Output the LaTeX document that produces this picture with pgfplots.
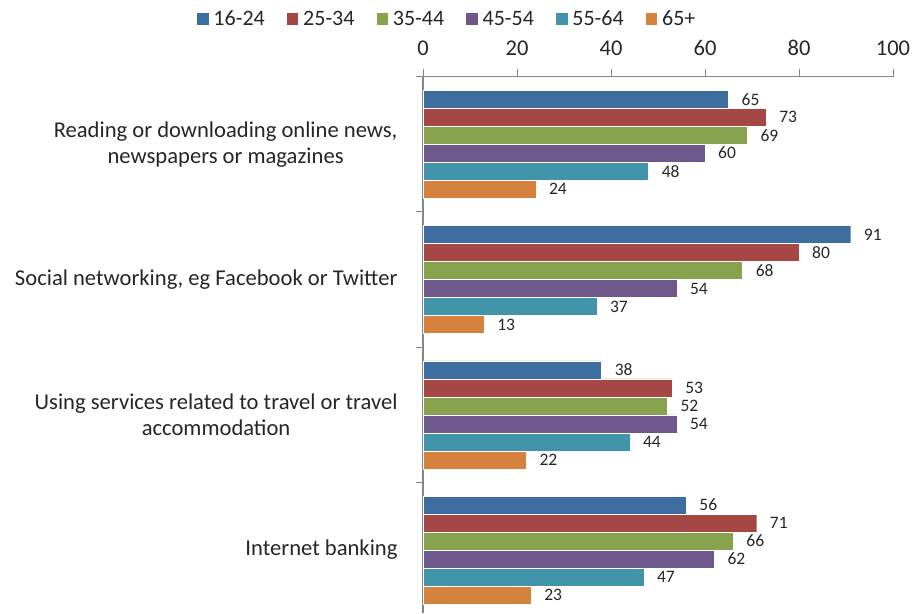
\documentclass[border=0pt]{standalone}
\usepackage{pgfplots}
\pgfplotsset{compat=1.18}
\usepackage{fontspec}
\setmainfont{Carlito}
\definecolor{c1}{HTML}{3D6E9F}
\definecolor{c2}{HTML}{A44745}
\definecolor{c3}{HTML}{88A34E}
\definecolor{c4}{HTML}{6E578A}
\definecolor{c5}{HTML}{4294AA}
\definecolor{c6}{HTML}{D6823F}
\definecolor{axgray}{HTML}{868686}
\definecolor{txt}{HTML}{262626}
\begin{document}
\begin{tikzpicture}[x=1pt,y=1pt]
\begin{axis}[
  at={(423pt,-76.5pt)}, anchor=north west,
  scale only axis, width=470pt, height=536.5pt,
  xmin=0, xmax=100, ymin=-0.465, ymax=3.5,
  axis x line*=top, axis y line*=left,
  axis line style={draw=axgray, line width=1.5pt},
  /pgf/number format/assume math mode=true,
  xtick={0,20,...,100},
  tick align=outside, major tick length=7pt,
  tick style={draw=axgray, line width=1pt},
  xticklabel style={font=\fontsize{22.5}{26}\selectfont, text=txt, yshift=10pt},
  ytick={0.5,1.5,2.5,3.5}, yticklabels={},
  extra y ticks={0,1,2,3},
  extra y tick labels={{Internet banking},{Using services related to travel or travel\\accommodation},{Social networking, eg Facebook or Twitter},{Reading or downloading online news,\\newspapers or magazines}},
  extra y tick style={major tick length=0pt, yticklabel style={align=center, font=\fontsize{22.6}{26}\selectfont, text=txt, xshift=-22pt}},
  xbar, bar width=0.133,
  nodes near coords,
  every node near coord/.append style={font=\fontsize{17.5}{20}\selectfont, text=txt, anchor=west, inner sep=0pt, xshift=13pt},
  legend columns=6,
  legend style={at={(rel axis cs:0.0505,1.107)}, anchor=center, draw=none, fill=none,
    font=\fontsize{22}{25}\selectfont, text=txt,
    /tikz/every odd column/.style={column sep=2.5pt},
    /tikz/every even column/.style={column sep=19pt}},
  legend image code/.code={\fill[#1] (0pt,-6.5pt) rectangle (12.5pt,6.5pt);},
]
\addplot[fill=c1, draw=white, line width=0.4pt, bar shift=0.3325] coordinates {(65,3) (91,2) (38,1) (56,0)};
\addplot[fill=c2, draw=white, line width=0.4pt, bar shift=0.1995] coordinates {(73,3) (80,2) (53,1) (71,0)};
\addplot[fill=c3, draw=white, line width=0.4pt, bar shift=0.0665] coordinates {(69,3) (68,2) (52,1) (66,0)};
\addplot[fill=c4, draw=white, line width=0.4pt, bar shift=-0.0665] coordinates {(60,3) (54,2) (54,1) (62,0)};
\addplot[fill=c5, draw=white, line width=0.4pt, bar shift=-0.1995] coordinates {(48,3) (37,2) (44,1) (47,0)};
\addplot[fill=c6, draw=white, line width=0.4pt, bar shift=-0.3325] coordinates {(24,3) (13,2) (22,1) (23,0)};
\legend{16-24,25-34,35-44,45-54,55-64,65+}
\end{axis}
\pgfresetboundingbox
\useasboundingbox (0,0) rectangle (920,-613);
\end{tikzpicture}
\end{document}
